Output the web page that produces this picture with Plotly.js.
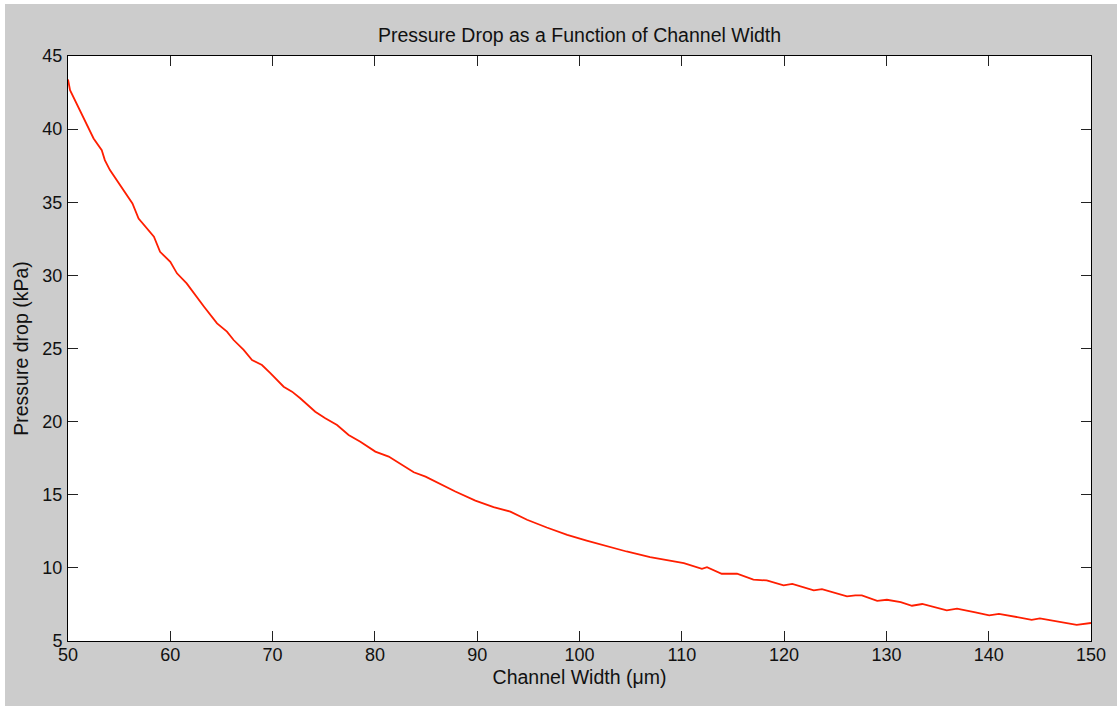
<!DOCTYPE html>
<html>
<head>
<meta charset="utf-8">
<script src="https://cdn.plot.ly/plotly-3.0.1.min.js"></script>
<style>
  html, body { margin: 0; padding: 0; background: #ffffff; }
  #chart { position: absolute; left: 5px; top: 4px; width: 1112px; height: 702px; }
</style>
</head>
<body>
<div id="chart"></div>
<script>
// Channel width (µm)
const channelWidth = [50.0, 50.2, 52.5, 53.3, 53.6, 54.1, 56.3, 56.9, 58.4, 59.0, 60.0, 60.65, 61.6, 62.3, 63.3,
  64.57, 65.54, 66.19, 67.17, 67.99, 68.96, 69.78, 71.08, 71.9, 72.7, 74.17, 75.15, 76.3, 77.43, 78.58,
  80.04, 81.35, 82.5, 83.8, 84.95, 86.4, 87.86, 89.82, 91.6, 93.24, 94.87, 96.8, 98.8, 100.7, 102.7,
  104.6, 106.9, 108.55, 110.2, 111.97, 112.46, 113.9, 115.4, 117.0, 118.3, 119.95, 120.8, 122.9, 123.7,
  126.15, 126.96, 127.6, 129.1, 130.05, 131.4, 132.5, 133.5, 135.9, 136.9, 138.7, 140.05, 141.0, 142.8,
  144.2, 145.0, 147.3, 148.6, 150.0];
// Pressure drop (kPa)
const pressureDrop = [43.4, 42.66, 39.36, 38.56, 37.88, 37.2, 34.92, 33.89, 32.64, 31.61, 30.93, 30.14, 29.45, 28.77, 27.86,
  26.72, 26.15, 25.58, 24.90, 24.21, 23.87, 23.31, 22.39, 22.05, 21.60, 20.68, 20.23, 19.77, 19.09, 18.63,
  17.95, 17.61, 17.09, 16.54, 16.24, 15.72, 15.22, 14.60, 14.15, 13.85, 13.29, 12.76, 12.26, 11.87, 11.46,
  11.12, 10.74, 10.51, 10.33, 9.94, 10.05, 9.60, 9.60, 9.19, 9.14, 8.80, 8.91, 8.46, 8.55,
  8.05, 8.12, 8.12, 7.75, 7.82, 7.66, 7.41, 7.53, 7.09, 7.21, 6.95, 6.75, 6.86, 6.64,
  6.45, 6.54, 6.27, 6.11, 6.23];
const xTicks = [50, 60, 70, 80, 90, 100, 110, 120, 130, 140, 150];
const yTicks = [5, 10, 15, 20, 25, 30, 35, 40, 45];

const font = "Liberation Sans, Arial, sans-serif";

const trace = {
  x: channelWidth,
  y: pressureDrop,
  type: 'scatter',
  mode: 'lines',
  line: { color: 'rgb(255,30,0)', width: 1.8 },
  hoverinfo: 'x+y'
};

const axisCommon = {
  showgrid: false,
  zeroline: false,
  showline: true,
  linecolor: '#000000',
  linewidth: 1,
  mirror: 'ticks',
  ticks: 'inside',
  ticklen: 10,
  tickwidth: 1,
  tickcolor: '#222222',
  tickfont: { family: font, size: 18, color: '#111111' },
  automargin: false
};

const layout = {
  paper_bgcolor: '#cccccc',
  plot_bgcolor: '#ffffff',
  margin: { l: 63, r: 26, t: 52, b: 65 },
  showlegend: false,
  title: {
    text: 'Pressure Drop as a Function of Channel Width',
    font: { family: font, size: 19.5, color: '#111111' },
    x: 0.5, xref: 'paper', xanchor: 'center',
    y: 1, yref: 'paper', yanchor: 'bottom',
    pad: { b: 14 }
  },
  xaxis: Object.assign({}, axisCommon, {
    range: [50, 150],
    tickvals: xTicks,
    ticktext: xTicks.map(String),
    ticklabelstandoff: -3,
    title: { text: 'Channel Width (μm)', font: { family: font, size: 19.5, color: '#111111' }, standoff: 6 }
  }),
  yaxis: Object.assign({}, axisCommon, {
    range: [5, 45],
    tickvals: yTicks,
    ticktext: yTicks.map(String),
    ticklabelstandoff: 1,
    title: { text: 'Pressure drop (kPa)', font: { family: font, size: 19.5, color: '#111111' }, standoff: 8 }
  })
};

Plotly.newPlot('chart', [trace], layout, { displayModeBar: false, responsive: false });
</script>
</body>
</html>
